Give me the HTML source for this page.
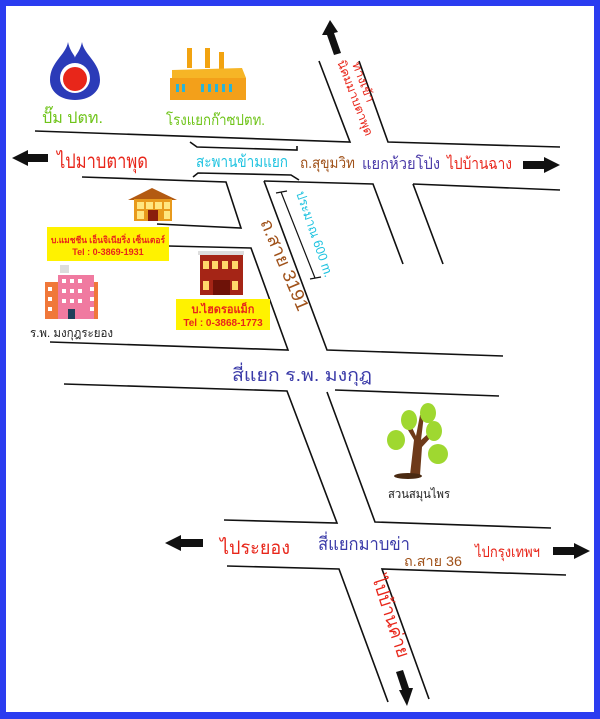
<!DOCTYPE html>
<html><head><meta charset="utf-8"><style>
html,body{margin:0;padding:0;background:#2a3cf0;}
svg{display:block}
text{font-family:"Liberation Sans","Noto Sans CJK SC",sans-serif;}
</style></head><body>
<svg width="600" height="719" viewBox="0 0 600 719" xmlns="http://www.w3.org/2000/svg">
<rect x="0" y="0" width="600" height="719" fill="#2a3cf0"/>
<rect x="6" y="6" width="588" height="706" fill="#fff"/>
<g stroke="#111" stroke-width="1.6" fill="none">
<polyline points="35,131 350,142 319,61"/>
<polyline points="359,61 388,142 560,147"/>
<polyline points="82,177 226,182 241,228 157,224"/>
<polyline points="190,142 197,147 297,150 297,146"/>
<polyline points="193,177 198,173 291,175 299,180"/>
<polyline points="264,181 373,184 403,264"/>
<polyline points="413,184 560,190"/>
<line x1="413" y1="184" x2="443" y2="264"/>
<polyline points="168,246 251,248 288,350 50,342"/>
<polyline points="264,181 327,350 503,356"/>
<polyline points="64,384 287,391 337,523 224,520"/>
<polyline points="499,396 335,390"/>
<polyline points="327,392 375,522 551,528"/>
<polyline points="227,566 339,569 388,702"/>
<polyline points="566,575 382,569 429,699"/>
<line x1="281" y1="192" x2="315" y2="278" stroke-width="1.2"/>
<line x1="276" y1="193" x2="287" y2="191" stroke-width="1.2"/>
<line x1="310" y1="279" x2="321" y2="277" stroke-width="1.2"/>
</g>
<g fill="#111">
<polygon points="12,158 28,150 28,154 48,154 48,162 28,162 28,166"/>
<polygon points="560,165 544,157 544,161 523,161 523,169 544,169 544,173"/>
<polygon points="330,20 322,35 327,35 334,55 341,53 334,33 338,32"/>
<polygon points="165,543 181,535 181,539 203,539 203,547 181,547 181,551"/>
<polygon points="590,551 574,543 574,547 553,547 553,555 574,555 574,559"/>
<polygon points="407,706 399,690 402,690 396,672 403,670 409,688 413,688"/>
</g>
<path d="M68,42 C66,55 50,62 50,80 C50,93 62,100 75,100 C88,100 100,93 100,80 C100,62 84,55 82,42 C80,52 75,55 75,58 C75,55 70,52 68,42Z" fill="#2b3bb8"/>
<circle cx="75" cy="78" r="15" fill="#fff"/>
<circle cx="75" cy="79" r="12" fill="#e8261a"/>
<rect x="187" y="48" width="5" height="20" fill="#f2a310"/>
<rect x="205" y="48" width="5" height="20" fill="#f2a310"/>
<rect x="219" y="52" width="5" height="18" fill="#f2a310"/>
<polygon points="172,70 242,68 246,78 172,80" fill="#f6b526"/>
<rect x="170" y="78" width="76" height="22" fill="#f3a01a"/>
<g fill="#29b4d8"><rect x="176" y="84" width="3" height="8"/><rect x="182" y="84" width="3" height="8"/><rect x="201" y="84" width="3" height="8"/><rect x="208" y="84" width="3" height="8"/><rect x="215" y="84" width="3" height="8"/><rect x="222" y="84" width="3" height="8"/><rect x="229" y="84" width="3" height="8"/></g>
<polygon points="128,200 152,188 177,200" fill="#b35a12"/>
<rect x="134" y="199" width="38" height="22" fill="#e89a1c"/>
<g fill="#ffe680"><rect x="137" y="202" width="7" height="7"/><rect x="146" y="202" width="7" height="7"/><rect x="155" y="202" width="7" height="7"/><rect x="164" y="202" width="6" height="7"/><rect x="137" y="211" width="7" height="8"/><rect x="164" y="211" width="6" height="8"/></g>
<rect x="148" y="210" width="10" height="11" fill="#8a1e0c"/>
<rect x="47" y="227" width="122" height="34" fill="#fff200"/>
<text x="51" y="243" font-size="9" font-weight="bold" fill="#e8261a" textLength="114" lengthAdjust="spacingAndGlyphs">บ.แมชชีน เอ็นจิเนียริ่ง เซ็นเตอร์</text>
<text x="108" y="255" font-size="9" font-weight="bold" fill="#e8261a" text-anchor="middle">Tel : 0-3869-1931</text>
<rect x="176" y="299" width="94" height="31" fill="#fff200"/>
<text x="223" y="313" font-size="11" font-weight="bold" fill="#e8261a" text-anchor="middle">บ.ไฮดรอแม็ก</text>
<text x="223" y="326" font-size="10" font-weight="bold" fill="#e8261a" text-anchor="middle">Tel : 0-3868-1773</text>
<rect x="198" y="251" width="46" height="4" fill="#ddd"/>
<rect x="200" y="255" width="43" height="40" fill="#a52516"/>
<g fill="#ffd86a"><rect x="203" y="261" width="6" height="8"/><rect x="212" y="261" width="6" height="8"/><rect x="222" y="261" width="6" height="8"/><rect x="232" y="261" width="6" height="8"/><rect x="203" y="281" width="6" height="9"/><rect x="232" y="281" width="6" height="9"/></g>
<rect x="213" y="280" width="17" height="15" fill="#6e1208"/>
<rect x="60" y="265" width="9" height="8" fill="#ddd"/>
<rect x="45" y="282" width="53" height="37" fill="#f0783a"/>
<rect x="58" y="275" width="36" height="44" fill="#f07aa0"/>
<g fill="#fff"><rect x="48" y="287" width="4" height="4"/><rect x="48" y="297" width="4" height="4"/><rect x="48" y="307" width="4" height="4"/><rect x="90" y="287" width="4" height="4"/><rect x="90" y="297" width="4" height="4"/><rect x="90" y="307" width="4" height="4"/><rect x="62" y="279" width="4" height="4"/><rect x="70" y="279" width="4" height="4"/><rect x="78" y="279" width="4" height="4"/><rect x="62" y="289" width="4" height="4"/><rect x="70" y="289" width="4" height="4"/><rect x="78" y="289" width="4" height="4"/><rect x="62" y="299" width="4" height="4"/><rect x="70" y="299" width="4" height="4"/><rect x="78" y="299" width="4" height="4"/></g>
<rect x="68" y="309" width="7" height="10" fill="#1e3f5a"/>
<path d="M410,475 L414,440 L405,425 L410,423 L416,436 L420,415 L424,415 L421,440 L430,432 L433,435 L422,447 L420,475Z" fill="#6e3a1a"/>
<ellipse cx="408" cy="476" rx="14" ry="3" fill="#4a2a12"/>
<g fill="#9fd830"><ellipse cx="396" cy="440" rx="9" ry="10"/><ellipse cx="409" cy="420" rx="8" ry="10"/><ellipse cx="428" cy="413" rx="8" ry="10"/><ellipse cx="434" cy="431" rx="8" ry="10"/><ellipse cx="438" cy="454" rx="10" ry="10"/></g>
<text x="42" y="123" font-size="16" fill="#6fc41a" textLength="61" lengthAdjust="spacingAndGlyphs">ปั๊ม ปตท.</text>
<text x="166" y="125" font-size="15" fill="#6fc41a" textLength="99" lengthAdjust="spacingAndGlyphs">โรงแยกก๊าซปตท.</text>
<text x="57" y="168" font-size="20" fill="#e8261a" textLength="91" lengthAdjust="spacingAndGlyphs">ไปมาบตาพุด</text>
<text x="196" y="167" font-size="16" fill="#1fc3e0" textLength="92" lengthAdjust="spacingAndGlyphs">สะพานข้ามแยก</text>
<text x="300" y="168" font-size="15" fill="#a0521a" textLength="55" lengthAdjust="spacingAndGlyphs">ถ.สุขุมวิท</text>
<text x="362" y="169" font-size="16" fill="#4a3aa8" textLength="78" lengthAdjust="spacingAndGlyphs">แยกห้วยโป่ง</text>
<text x="447" y="169" font-size="16" fill="#e8261a" textLength="65" lengthAdjust="spacingAndGlyphs">ไปบ้านฉาง</text>
<text transform="translate(352,64) rotate(69)" font-size="12" fill="#e8261a" textLength="42" lengthAdjust="spacingAndGlyphs">ทางเข้า</text>
<text transform="translate(337,62) rotate(69)" font-size="12" fill="#e8261a" textLength="80" lengthAdjust="spacingAndGlyphs">นิคมมาบตาพุด</text>
<text transform="translate(296,193) rotate(71)" font-size="13" fill="#1fc3e0" textLength="90" lengthAdjust="spacingAndGlyphs">ประมาณ 600 m.</text>
<text transform="translate(260,222) rotate(67)" font-size="18" fill="#a0521a" textLength="98" lengthAdjust="spacingAndGlyphs">ถ.สาย 3191</text>
<text x="30" y="337" font-size="12" fill="#222" textLength="83" lengthAdjust="spacingAndGlyphs">ร.พ. มงกุฎระยอง</text>
<text x="232" y="381" font-size="18" fill="#3a3aa8" textLength="140" lengthAdjust="spacingAndGlyphs">สี่แยก ร.พ. มงกุฎ</text>
<text x="388" y="498" font-size="12" fill="#222" textLength="62" lengthAdjust="spacingAndGlyphs">สวนสมุนไพร</text>
<text x="220" y="554" font-size="19" fill="#e8261a" textLength="70" lengthAdjust="spacingAndGlyphs">ไประยอง</text>
<text x="318" y="550" font-size="18" fill="#3a3aa8" textLength="92" lengthAdjust="spacingAndGlyphs">สี่แยกมาบข่า</text>
<text x="404" y="566" font-size="14" fill="#a0521a" textLength="58" lengthAdjust="spacingAndGlyphs">ถ.สาย 36</text>
<text x="475" y="557" font-size="15" fill="#e8261a" textLength="65" lengthAdjust="spacingAndGlyphs">ไปกรุงเทพฯ</text>
<text transform="translate(372,578) rotate(72)" font-size="18" fill="#e8261a" textLength="85" lengthAdjust="spacingAndGlyphs">ไปบ้านค่าย</text>
</svg>
</body></html>
